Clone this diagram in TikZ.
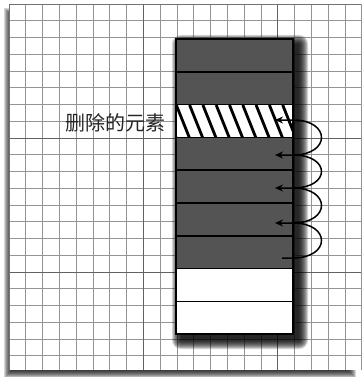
\documentclass[tikz,border=0pt]{standalone}
\usepackage{fontspec}
\newfontfamily\cjk{Noto Sans CJK SC}
\usetikzlibrary{arrows.meta}
\begin{document}
\begin{tikzpicture}[x=1pt,y=-1pt,
  cell/.style={draw=black, line width=1.7pt, minimum width=117pt, minimum height=32.8pt, inner sep=0pt, outer sep=0pt},
  darkcell/.style={cell, fill=black!67},
  lightcell/.style={cell, fill=white},
  minorline/.style={draw=black!42, line width=0.75pt},
  majorline/.style={draw=black!62, line width=1pt},
  looparc/.style={line width=1.5pt, draw=black},
  tip/.style={-{Stealth[length=8pt,width=7pt]}},
  lbl/.style={font=\cjk\fontsize{20}{20}\selectfont, text=black!85, inner sep=0pt}]
\useasboundingbox (0,0) rectangle (361,377);
\fill[white] (0,0) rectangle (361,377);
% frame shadow
\foreach \s in {0,...,7}
  \fill[black, opacity=0.16] (4+\s,8+\s) rectangle (356-\s,378-\s);
\fill[white] (9,4) rectangle (361,370);
% grid
\foreach \i in {0,...,21}
  \draw[minorline] (9+16.8*\i,4) -- (9+16.8*\i,370);
\foreach \k in {0,...,21}
  \draw[minorline] (9,4+16.75*\k) -- (361,4+16.75*\k);
\foreach \i in {8,16}
  \draw[majorline] (9+16.8*\i,4) -- (9+16.8*\i,370);
\foreach \k in {8,16}
  \draw[majorline] (9,4+16.75*\k) -- (361,4+16.75*\k);
\draw[black!55, line width=0.8pt] (9,370) -- (9,4) -- (361,4);
% column shadow
\foreach \s in {0,...,9}
  \fill[black, opacity=0.17, rounded corners=\s pt] (181-\s,44-\s) rectangle (299+\s,340+\s);
% cells
\foreach \i/\st in {1/darkcell,2/darkcell,3/lightcell,4/darkcell,5/darkcell,6/darkcell,7/darkcell,8/lightcell,9/lightcell}
  \node[\st] (r\i) at (234.5,{39+32.8*(\i-0.5)}) {};
% hatch on the removed element
\begin{scope}
  \clip (r3.north west) rectangle (r3.south east);
  \foreach \x in {0,...,10}
    \draw[line width=2.8pt] ({163+13.3*\x},105) -- ({177+13.3*\x},140);
\end{scope}
\draw[line width=1.7pt] (r3.north west) rectangle (r3.south east);
\draw[line width=2.2pt] (r1.north west) rectangle (r9.south east);
% label
\node[lbl, anchor=east] (lab) at (166,123) {删除的元素};
% loops
\coordinate (s0) at (282,258);
\coordinate (e0) at (293,258);
\coordinate (e1) at (293,223);
\coordinate (e2) at (293,188);
\coordinate (e3) at (293,155);
\coordinate (e4) at (293,120);
\coordinate (t1) at (275,223);
\coordinate (t2) at (275,188);
\coordinate (t3) at (275,155);
\coordinate (t4) at (275,120);
\draw[looparc, tip] (s0) -- (e0) .. controls +(38,0) and +(38,0) .. (e1) -- (t1);
\draw[looparc, tip] (e1) .. controls +(38,0) and +(38,0) .. (e2) -- (t2);
\draw[looparc, tip] (e2) .. controls +(38,0) and +(38,0) .. (e3) -- (t3);
\draw[looparc, tip] (e3) .. controls +(38,0) and +(38,0) .. (e4) -- (t4);
\end{tikzpicture}
\end{document}
